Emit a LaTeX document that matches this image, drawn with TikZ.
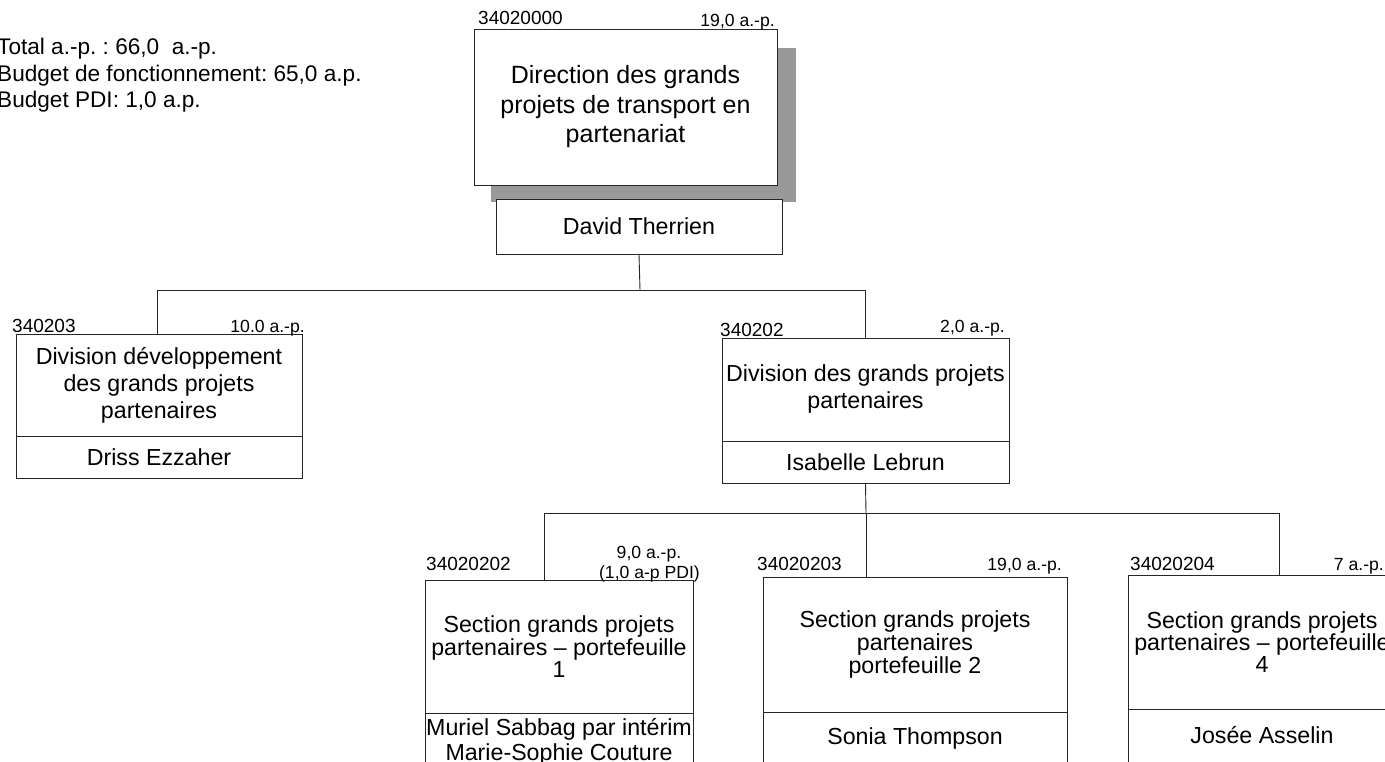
\documentclass[tikz,border=0pt]{standalone}
\usepackage{fontspec}
\setmainfont{Liberation Sans}
\frenchspacing
\begin{document}
\begin{tikzpicture}[x=1pt,y=-1pt,
  box/.style={draw=black!85, line width=0.9pt, fill=white, inner sep=0pt, align=center},
  bigtxt/.style={font=\fontsize{25}{29.5}\selectfont},
  midtxt/.style={font=\fontsize{23.2}{27}\selectfont},
  tighttxt/.style={font=\fontsize{23.2}{20}\selectfont},
  nametxt/.style={font=\fontsize{23.2}{25}\selectfont, inner sep=0pt, align=center},
  codetxt/.style={font=\fontsize{19}{20}\selectfont, inner sep=0pt},
  aptxt/.style={font=\fontsize{17.6}{20}\selectfont, inner sep=0pt},
  infotxt/.style={font=\fontsize{22.6}{26}\selectfont, inner sep=0pt, anchor=base west},
  link/.style={draw=black!85, line width=0.9pt}]
\useasboundingbox (0,0) rectangle (1385,762);
\clip (0,0) rectangle (1385,762);
\fill[white] (0,0) rectangle (1385,762);

% info text
\node[infotxt] (i1) at (-3,55) {Total a.-p. : 66,0\ \ a.-p.};
\node[infotxt] (i2) at (-3,81.5) {Budget de fonctionnement: 65,0 a.p.};
\node[infotxt] (i3) at (-3,108) {Budget PDI: 1,0 a.p.};

% connectors
\coordinate (j1) at (640,290);
\coordinate (j2) at (866,513);

% top
\fill[black!40] (491,48) rectangle (796,202);
\node[box, bigtxt, minimum width=303pt, minimum height=156pt] (dir) at (625.5,107)
  {Direction des grands\\projets de transport en\\partenariat};
\node[box, midtxt, minimum width=286pt, minimum height=55pt] (dt) at (639,226.5) {David Therrien};
\node[codetxt, anchor=base west] (c0) at (478,25) {34020000};
\node[aptxt, anchor=base east] (a0) at (775,27) {19,0 a.-p.};

\draw[link] (dt.south) -- (j1);

% level 2 left
\node[box, midtxt, minimum width=286pt, minimum height=102pt] (d1) at (159,385)
  {Division développement\\des grands projets\\partenaires};
\node[box, midtxt, minimum width=286pt, minimum height=42pt] (d1n) at (159,457) {Driss Ezzaher};
\node[codetxt, anchor=base west] (c1) at (12,332) {340203};
\node[aptxt, anchor=base east] (a1) at (305,332) {10.0 a.-p.};

% level 2 right
\node[box, midtxt, minimum width=287pt, minimum height=103pt] (d2) at (865.5,389.5)
  {Division des grands projets\\partenaires};
\node[box, midtxt, minimum width=287pt, minimum height=42pt] (d2n) at (865.5,462) {Isabelle Lebrun};
\node[codetxt, anchor=base west] (c2) at (720,337) {340202};
\node[aptxt, anchor=base east] (a2) at (1005,332) {2,0 a.-p.};

\draw[link] (j1) -| ([xshift=-2pt]d1.north);
\draw[link] (j1) -| (d2.north);
\draw[link] (d2n.south) -- (j2);

% sections
\node[box, tighttxt, minimum width=268pt, minimum height=133pt] (s1) at (559,646.5)
  {Section grands projets\\partenaires -- portefeuille\\1};
\node[box, minimum width=268pt, minimum height=80pt] (s1n) at (559,753) {};
\node[nametxt, anchor=base] (s1t) at (559,735) {Muriel Sabbag par intérim};
\node[nametxt, anchor=base] (s1u) at (559,760) {Marie-Sophie Couture};
\node[codetxt, anchor=base west] (c3) at (426,570) {34020202};
\node[aptxt, anchor=base] (a3) at (649,558) {9,0 a.-p.};
\node[aptxt, anchor=base] (a3b) at (649.5,578) {(1,0 a-p PDI)};

\node[box, tighttxt, minimum width=304pt, minimum height=135pt] (s2) at (915,644.5)
  {Section grands projets\\partenaires\\portefeuille 2};
\node[box, minimum width=304pt, minimum height=80pt] (s2n) at (915,752) {};
\node[nametxt, anchor=base] (s2t) at (915,744) {Sonia Thompson};
\node[codetxt, anchor=base west] (c4) at (757,570) {34020203};
\node[aptxt, anchor=base east] (a4) at (1062,570) {19,0 a.-p.};

\node[box, tighttxt, minimum width=268pt, minimum height=134pt] (s3) at (1262,642)
  {Section grands projets\\partenaires -- portefeuille\\4};
\node[box, minimum width=268pt, minimum height=80pt] (s3n) at (1262,749) {};
\node[nametxt, anchor=base] (s3t) at (1262,743) {Josée Asselin};
\node[codetxt, anchor=base west] (c5) at (1130,570) {34020204};
\node[aptxt, anchor=base east] (a5) at (1384,570) {7 a.-p.};

\draw[link] (j2) -| ([xshift=-15pt]s1.north);
\draw[link] (j2) -| ([xshift=-49pt]s2.north);
\draw[link] (j2) -| ([xshift=17pt]s3.north);
\end{tikzpicture}
\end{document}
